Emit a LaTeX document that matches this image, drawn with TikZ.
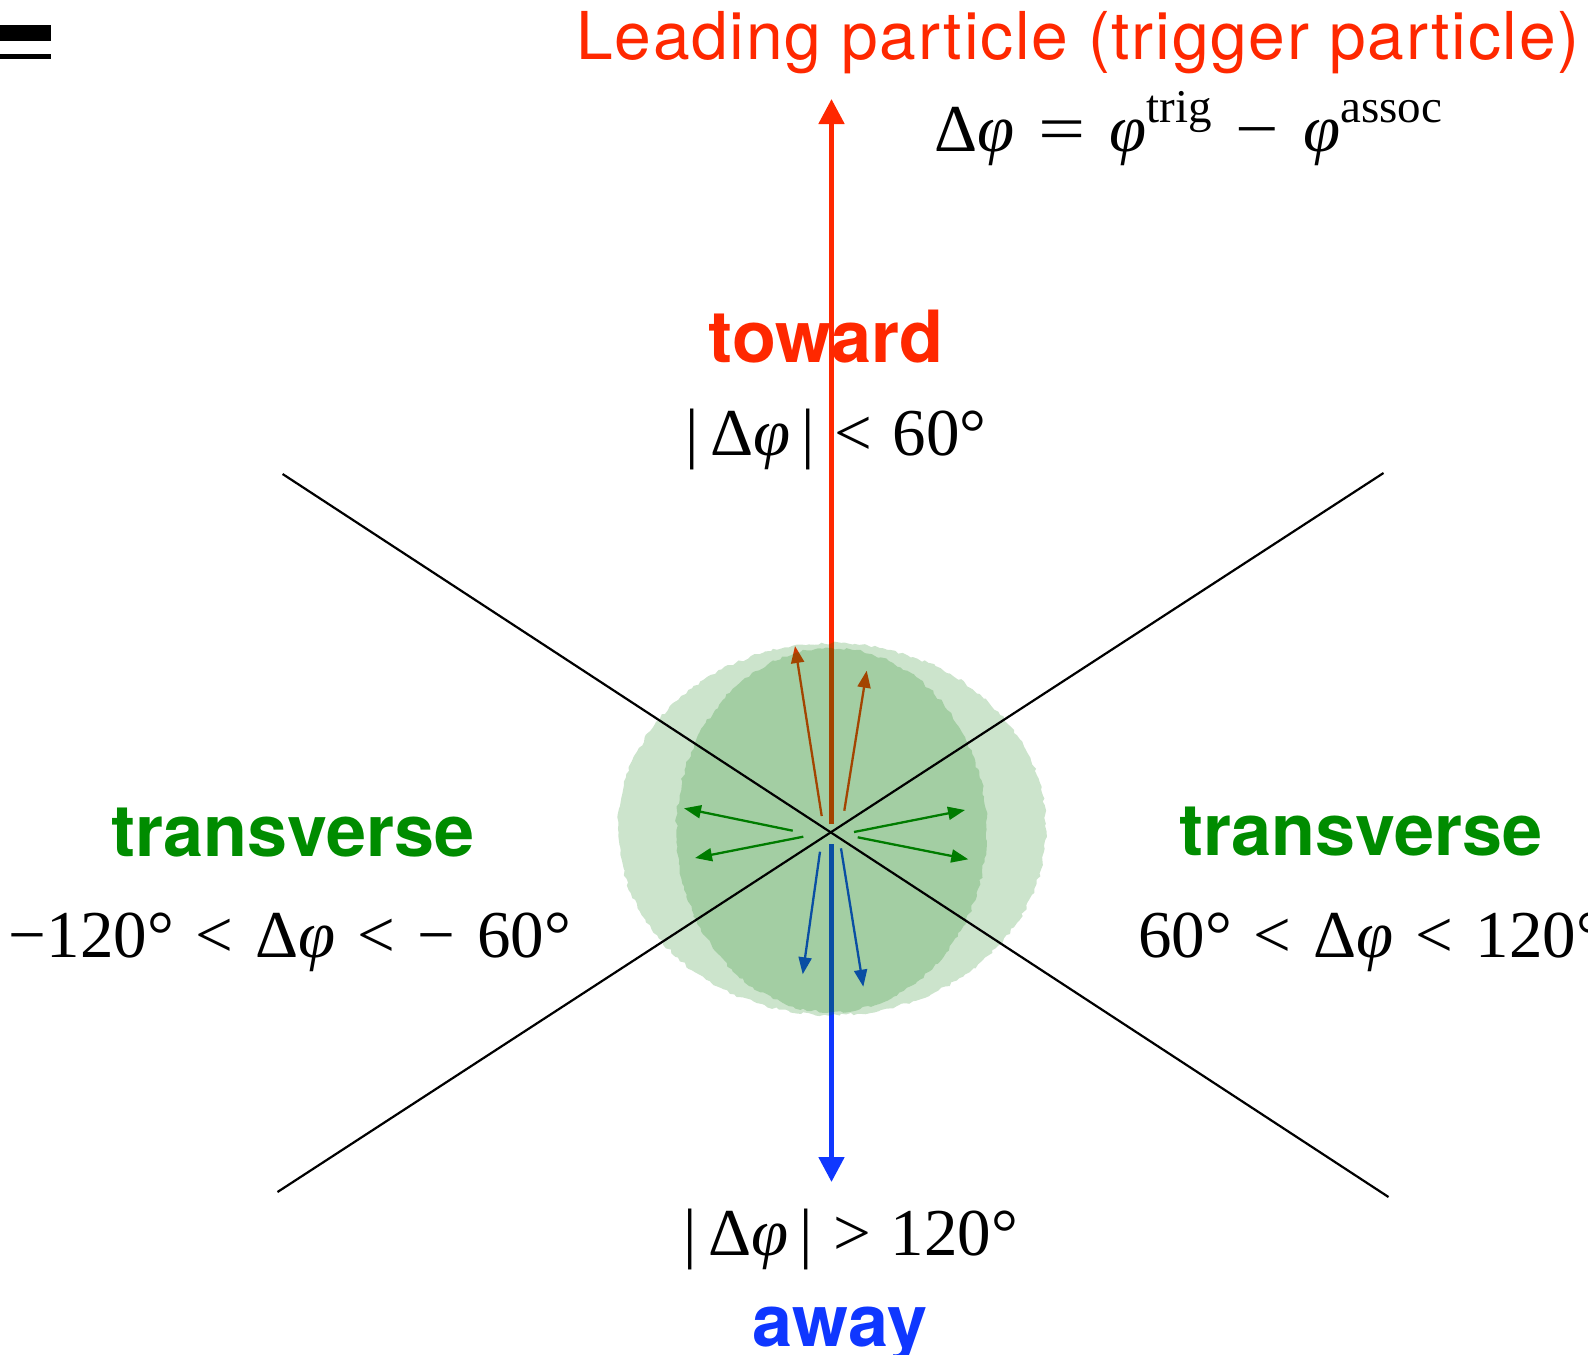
\documentclass[tikz,border=0pt]{standalone}
\usepackage{graphicx}
\usepackage{fontspec}
\setmainfont{Liberation Serif}
\newfontfamily\heros{TeX Gyre Heros}
\usetikzlibrary{arrows.meta,decorations.pathmorphing}
\definecolor{myred}{RGB}{255,40,0}
\definecolor{myblue}{RGB}{15,55,255}
\definecolor{mygreen}{RGB}{0,140,0}
\definecolor{arrgreen}{RGB}{0,128,0}
\definecolor{discgreen}{RGB}{0,120,0}
\newcommand\myphi{\textit{φ}}
\newcommand\mysups[1]{\raisebox{29pt}{\fontsize{47}{47}\selectfont #1}}
\newcommand\mysp{\hspace{22pt}}
\newcommand\myfsp{\hspace{24pt}}
\begin{document}
\begin{tikzpicture}[x=1pt,y=-1pt,
 titletext/.style={font=\heros\fontsize{66}{70}\selectfont, text=myred, inner sep=0, anchor=base},
 region/.style={font=\heros\bfseries\fontsize{72}{80}\selectfont, inner sep=0, anchor=base},
 rng/.style={font=\fontsize{67}{72}\selectfont, inner sep=0, anchor=base},
 mainarrow/.style={line width=5pt, -{Triangle[length=25pt,width=25pt]}},
 smallarrow/.style={line width=2.3pt, -{Triangle[length=17pt,width=13pt]}},
 sector/.style={line width=2.2pt, draw=black},
 disc/.style={fill=discgreen, fill opacity=0.2, decorate, decoration={random steps, segment length=4pt, amplitude=1.5pt}},
]
\pgfmathsetseed{3}
\useasboundingbox (0,0) rectangle (1588,1355);
% clipped glyph top left
\fill[black] (0,25) rectangle (51,40.7);
\fill[black] (0,54) rectangle (51,59.3);

\coordinate (c) at (831,832);
% main arrows
\coordinate (rs) at (831.5,824);
\coordinate (rt) at (831.5,99);
\coordinate (bs) at (831.5,844);
\coordinate (bt) at (831.5,1182);
\draw[mainarrow, myred] (rs) -- (rt);
\draw[mainarrow, myblue] (bs) -- (bt);

% small arrows
\coordinate (a1s) at (821.7,816);   \coordinate (a1t) at (795,646);
\coordinate (a2s) at (844.3,810.7); \coordinate (a2t) at (866.7,670.7);
\coordinate (g1s) at (792.7,830.7); \coordinate (g1t) at (684,808.3);
\coordinate (g2s) at (803.3,836.7); \coordinate (g2t) at (695,858);
\coordinate (g3s) at (854,832);     \coordinate (g3t) at (965,810);
\coordinate (g4s) at (857.7,837.3); \coordinate (g4t) at (968.3,859.3);
\coordinate (b1s) at (820,851.7);   \coordinate (b1t) at (802.7,974.3);
\coordinate (b2s) at (841,848.3);   \coordinate (b2t) at (863.3,986.7);
\draw[smallarrow, myred] (a1s) -- (a1t);
\draw[smallarrow, myred] (a2s) -- (a2t);
\draw[smallarrow, arrgreen] (g1s) -- (g1t);
\draw[smallarrow, arrgreen] (g2s) -- (g2t);
\draw[smallarrow, arrgreen] (g3s) -- (g3t);
\draw[smallarrow, arrgreen] (g4s) -- (g4t);
\draw[smallarrow, myblue] (b1s) -- (b1t);
\draw[smallarrow, myblue] (b2s) -- (b2t);

% green discs
\path[disc] (832,829) ellipse [x radius=214, y radius=186];
\path[disc] (831.5,830) ellipse [x radius=155, y radius=182];

% sector lines
\coordinate (l1a) at (282.6,474);
\coordinate (l1b) at (1388.5,1197);
\coordinate (l2a) at (277.5,1192);
\coordinate (l2b) at (1383.5,473);
\draw[sector] (l1a) -- (l1b);
\draw[sector] (l2a) -- (l2b);

% texts
\node[titletext] (lead) at (1078,59) {\addfontfeature{LetterSpace=2.6}Leading particle (trigger particle)};
\node[rng, anchor=base west] (formula) at (934,151) {Δ\myphi\myfsp\scalebox{1.25}[1]{=}\myfsp\myphi\mysups{trig}\myfsp\scalebox{1.15}[1]{−}\myfsp\myphi\mysups{assoc}};
\node[region, text=myred] (toward) at (826,362.7) {toward};
\node[rng] (towardrng) at (836,455) {|\,Δ\myphi\,|\hspace{20pt}<\hspace{20pt}60°};
\node[region, text=mygreen] (transl) at (293,856) {transverse};
\node[region, text=mygreen] (transr) at (1361,855) {transverse};
\node[rng] (rngl) at (290,957) {−120°\mysp<\mysp Δ\myphi\mysp<\mysp−\mysp 60°};
\node[rng, anchor=base west] (rngr) at (1138,957) {60°\mysp<\mysp Δ\myphi\mysp<\mysp 120°};
\node[rng] (awayrng) at (851,1255) {|\,Δ\myphi\,|\hspace{20pt}>\hspace{20pt}120°};
\node[region, text=myblue] (away) at (840,1346) {away};
\end{tikzpicture}
\end{document}
